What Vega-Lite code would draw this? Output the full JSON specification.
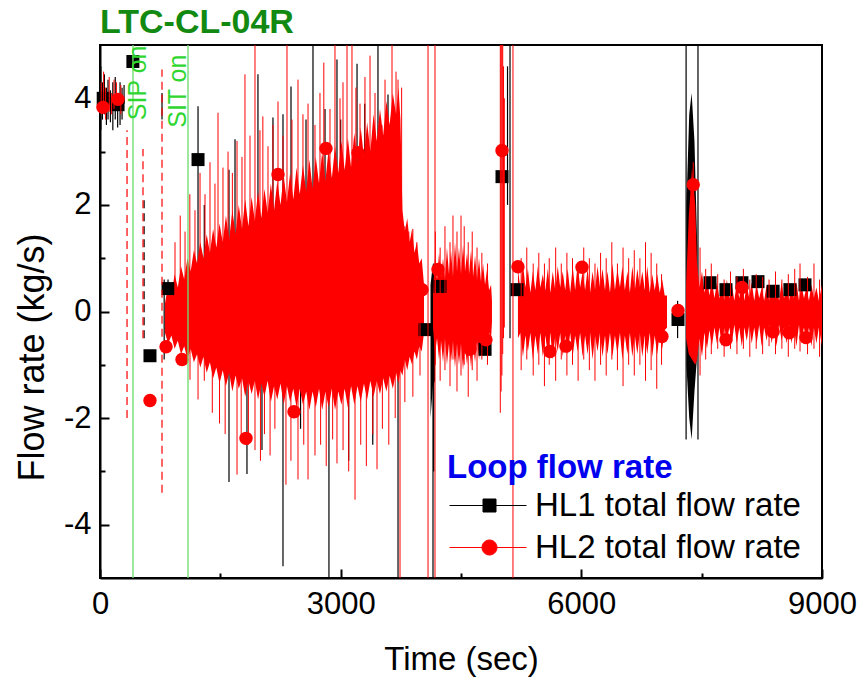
{
"$schema":"https://vega.github.io/schema/vega-lite/v6.json",
"width":722,"height":533,
"autosize":{"type":"none"},
"padding":{"left":100,"top":45,"right":42,"bottom":105},
"background":"white",
"title":{"text":"LTC-CL-04R","anchor":"start","frame":"group","fontSize":34,"fontWeight":"bold","color":"#128a12","font":"Liberation Sans","offset":4},
"config":{"font":"Liberation Sans","view":{"stroke":"black","strokeWidth":2},"axis":{"grid":false}},
"datasets":{
"spK":[{"t":10,"l":3.4,"h":4.6},{"t":30,"l":3.6,"h":4.3},{"t":55,"l":3.7,"h":4.45},{"t":80,"l":3.5,"h":4.2},{"t":100,"l":3.6,"h":4.35},{"t":130,"l":3.55,"h":4.15},{"t":160,"l":3.4,"h":4.3},{"t":190,"l":3.6,"h":4.4},{"t":220,"l":3.45,"h":4.1},{"t":250,"l":3.5,"h":4.3},{"t":275,"l":3.6,"h":4.2},{"t":300,"l":3.9,"h":4.25},{"t":773,"l":3.6,"h":4.1},{"t":800,"l":-0.9,"h":0.6},{"t":848,"l":-0.7,"h":0.6},{"t":1222,"l":0.2,"h":3.85},{"t":1300,"l":0,"h":2.0},{"t":1608,"l":-3.2,"h":2.66},{"t":1683,"l":-1,"h":3.23},{"t":1832,"l":-3.05,"h":0},{"t":1969,"l":0,"h":4.45},{"t":2019,"l":-2.6,"h":0},{"t":2156,"l":0,"h":3.64},{"t":2281,"l":-4.78,"h":3.7},{"t":2381,"l":0,"h":4.22},{"t":2500,"l":-2.2,"h":0},{"t":2568,"l":0,"h":3.6},{"t":2655,"l":0,"h":5.5},{"t":2805,"l":0,"h":3.8},{"t":2854,"l":-5.5,"h":0},{"t":2954,"l":0,"h":4.73},{"t":3000,"l":0,"h":3.6},{"t":3100,"l":-2.8,"h":0},{"t":3204,"l":0,"h":4.65},{"t":3300,"l":0,"h":3.9},{"t":3400,"l":-2.5,"h":0},{"t":3465,"l":0,"h":5.5},{"t":3590,"l":0,"h":4.07},{"t":3715,"l":-5.5,"h":0},{"t":4151,"l":-5.5,"h":0},{"t":4160,"l":-3.0,"h":0.9},{"t":5080,"l":2.0,"h":4.6},{"t":5111,"l":-0.5,"h":5.5},{"t":7200,"l":-0.5,"h":0.2},{"t":7306,"l":-2.4,"h":5.5},{"t":7454,"l":-2.4,"h":5.5}],
"arK":[{"g":"a","t":4120,"l":-2.0,"h":0.5},{"g":"a","t":4150,"l":-1.4,"h":0.9},{"g":"a","t":4176,"l":-1.3,"h":0.3},{"g":"b","t":7310,"l":-1.0,"h":2.0},{"g":"b","t":7345,"l":-2.0,"h":3.7},{"g":"b","t":7375,"l":-2.4,"h":4.1},{"g":"b","t":7410,"l":-1.5,"h":3.2},{"g":"b","t":7445,"l":-0.8,"h":1.2}],
"daK":[{"t":550,"l":-0.5,"h":2.1}],
"arR":[{"g":"m","t":810,"l":-0.4,"h":0.15},{"g":"m","t":850,"l":-0.6,"h":0.5},{"g":"m","t":890,"l":-0.45,"h":0.3},{"g":"m","t":930,"l":-0.7,"h":0.7},{"g":"m","t":970,"l":-0.55,"h":0.45},{"g":"m","t":1010,"l":-0.8,"h":0.85},{"g":"m","t":1050,"l":-0.65,"h":0.6},{"g":"m","t":1090,"l":-0.9,"h":1.0},{"g":"m","t":1130,"l":-0.7,"h":0.75},{"g":"m","t":1170,"l":-0.95,"h":1.15},{"g":"m","t":1210,"l":-0.8,"h":0.9},{"g":"m","t":1250,"l":-1.05,"h":1.3},{"g":"m","t":1290,"l":-0.85,"h":1.0},{"g":"m","t":1330,"l":-1.15,"h":1.45},{"g":"m","t":1370,"l":-0.95,"h":1.1},{"g":"m","t":1410,"l":-1.25,"h":1.55},{"g":"m","t":1450,"l":-1.05,"h":1.2},{"g":"m","t":1490,"l":-1.35,"h":1.65},{"g":"m","t":1530,"l":-1.1,"h":1.3},{"g":"m","t":1570,"l":-1.4,"h":1.8},{"g":"m","t":1610,"l":-1.15,"h":1.35},{"g":"m","t":1650,"l":-1.5,"h":1.9},{"g":"m","t":1690,"l":-1.2,"h":1.45},{"g":"m","t":1730,"l":-1.45,"h":2.0},{"g":"m","t":1770,"l":-1.25,"h":1.55},{"g":"m","t":1810,"l":-1.6,"h":2.1},{"g":"m","t":1850,"l":-1.3,"h":1.6},{"g":"m","t":1890,"l":-1.55,"h":2.15},{"g":"m","t":1930,"l":-1.3,"h":1.7},{"g":"m","t":1970,"l":-1.65,"h":2.25},{"g":"m","t":2010,"l":-1.35,"h":1.75},{"g":"m","t":2050,"l":-1.6,"h":2.3},{"g":"m","t":2090,"l":-1.3,"h":1.85},{"g":"m","t":2130,"l":-1.7,"h":2.4},{"g":"m","t":2170,"l":-1.4,"h":1.9},{"g":"m","t":2210,"l":-1.65,"h":2.45},{"g":"m","t":2250,"l":-1.35,"h":2.0},{"g":"m","t":2290,"l":-1.75,"h":2.55},{"g":"m","t":2330,"l":-1.4,"h":2.05},{"g":"m","t":2370,"l":-1.7,"h":2.6},{"g":"m","t":2410,"l":-1.45,"h":2.1},{"g":"m","t":2450,"l":-1.8,"h":2.7},{"g":"m","t":2490,"l":-1.45,"h":2.2},{"g":"m","t":2530,"l":-1.75,"h":2.75},{"g":"m","t":2570,"l":-1.5,"h":2.25},{"g":"m","t":2610,"l":-1.85,"h":2.85},{"g":"m","t":2650,"l":-1.5,"h":2.3},{"g":"m","t":2690,"l":-1.8,"h":2.9},{"g":"m","t":2730,"l":-1.45,"h":2.4},{"g":"m","t":2770,"l":-1.85,"h":3.0},{"g":"m","t":2810,"l":-1.5,"h":2.45},{"g":"m","t":2850,"l":-1.8,"h":3.05},{"g":"m","t":2890,"l":-1.45,"h":2.5},{"g":"m","t":2930,"l":-1.85,"h":3.1},{"g":"m","t":2970,"l":-1.5,"h":2.6},{"g":"m","t":3010,"l":-1.75,"h":3.2},{"g":"m","t":3050,"l":-1.45,"h":2.65},{"g":"m","t":3090,"l":-1.8,"h":3.25},{"g":"m","t":3130,"l":-1.4,"h":2.7},{"g":"m","t":3170,"l":-1.75,"h":3.35},{"g":"m","t":3210,"l":-1.4,"h":2.8},{"g":"m","t":3250,"l":-1.7,"h":3.45},{"g":"m","t":3290,"l":-1.35,"h":2.9},{"g":"m","t":3330,"l":-1.65,"h":3.55},{"g":"m","t":3370,"l":-1.3,"h":3.0},{"g":"m","t":3410,"l":-1.6,"h":3.7},{"g":"m","t":3450,"l":-1.3,"h":3.2},{"g":"m","t":3490,"l":-1.55,"h":3.8},{"g":"m","t":3530,"l":-1.25,"h":3.3},{"g":"m","t":3570,"l":-1.5,"h":3.95},{"g":"m","t":3610,"l":-1.2,"h":3.5},{"g":"m","t":3650,"l":-1.45,"h":4.1},{"g":"m","t":3690,"l":-1.15,"h":3.7},{"g":"m","t":3720,"l":-1.35,"h":4.2},{"g":"m","t":3745,"l":-1.1,"h":3.6},{"g":"m","t":3770,"l":-1.2,"h":1.9},{"g":"m","t":3800,"l":-0.9,"h":1.5},{"g":"m","t":3830,"l":-1.1,"h":1.75},{"g":"m","t":3860,"l":-0.85,"h":1.3},{"g":"m","t":3890,"l":-1.0,"h":1.55},{"g":"m","t":3920,"l":-0.75,"h":1.1},{"g":"m","t":3950,"l":-0.9,"h":1.3},{"g":"m","t":3980,"l":-0.65,"h":0.9},{"g":"m","t":4010,"l":-0.75,"h":1.0},{"g":"m","t":4039,"l":-0.4,"h":0.5},
{"g":"c","t":4151,"l":-0.3,"h":0.4},{"g":"c","t":4176,"l":-0.8,"h":1.0},{"g":"c","t":4201,"l":-0.5,"h":0.6},{"g":"c","t":4226,"l":-0.9,"h":1.1},{"g":"c","t":4251,"l":-0.55,"h":0.65},{"g":"c","t":4276,"l":-0.95,"h":1.0},{"g":"c","t":4300,"l":-0.5,"h":0.6},{"g":"c","t":4325,"l":-1.0,"h":1.2},{"g":"c","t":4350,"l":-0.6,"h":0.7},{"g":"c","t":4375,"l":-0.95,"h":1.15},{"g":"c","t":4400,"l":-0.55,"h":0.65},{"g":"c","t":4425,"l":-1.05,"h":1.3},{"g":"c","t":4450,"l":-0.6,"h":0.75},{"g":"c","t":4475,"l":-1.0,"h":1.2},{"g":"c","t":4500,"l":-0.6,"h":0.7},{"g":"c","t":4525,"l":-1.1,"h":1.25},{"g":"c","t":4550,"l":-0.65,"h":0.75},{"g":"c","t":4575,"l":-1.0,"h":1.1},{"g":"c","t":4600,"l":-0.6,"h":0.7},{"g":"c","t":4625,"l":-1.05,"h":1.15},{"g":"c","t":4650,"l":-0.6,"h":0.65},{"g":"c","t":4675,"l":-0.95,"h":1.05},{"g":"c","t":4700,"l":-0.55,"h":0.6},{"g":"c","t":4725,"l":-0.9,"h":1.0},{"g":"c","t":4750,"l":-0.5,"h":0.55},{"g":"c","t":4775,"l":-0.85,"h":0.9},{"g":"c","t":4800,"l":-0.5,"h":0.5},{"g":"c","t":4825,"l":-0.8,"h":0.8},{"g":"c","t":4850,"l":-0.4,"h":0.4},{"g":"c","t":4875,"l":-0.5,"h":0.5},{"g":"c","t":4886,"l":-0.2,"h":0.2},
{"g":"e","t":5210,"l":-0.5,"h":0.8},{"g":"e","t":5241,"l":-0.4,"h":0.4},{"g":"e","t":5272,"l":-0.85,"h":0.9},{"g":"e","t":5303,"l":-0.45,"h":0.45},{"g":"e","t":5334,"l":-0.75,"h":0.8},{"g":"e","t":5365,"l":-0.4,"h":0.35},{"g":"e","t":5396,"l":-0.9,"h":0.75},{"g":"e","t":5427,"l":-0.45,"h":0.4},{"g":"e","t":5458,"l":-0.8,"h":0.85},{"g":"e","t":5489,"l":-0.4,"h":0.45},{"g":"e","t":5520,"l":-0.85,"h":0.7},{"g":"e","t":5551,"l":-0.45,"h":0.4},{"g":"e","t":5582,"l":-0.8,"h":0.8},{"g":"e","t":5613,"l":-0.4,"h":0.35},{"g":"e","t":5644,"l":-0.9,"h":0.75},{"g":"e","t":5675,"l":-0.45,"h":0.4},{"g":"e","t":5706,"l":-0.75,"h":0.85},{"g":"e","t":5737,"l":-0.4,"h":0.45},{"g":"e","t":5768,"l":-0.85,"h":0.75},{"g":"e","t":5799,"l":-0.45,"h":0.4},{"g":"e","t":5830,"l":-0.8,"h":0.8},{"g":"e","t":5861,"l":-0.4,"h":0.35},{"g":"e","t":5892,"l":-0.85,"h":0.85},{"g":"e","t":5923,"l":-0.45,"h":0.4},{"g":"e","t":5954,"l":-0.75,"h":0.9},{"g":"e","t":5985,"l":-0.4,"h":0.45},{"g":"e","t":6016,"l":-0.85,"h":0.75},{"g":"e","t":6047,"l":-0.45,"h":0.4},{"g":"e","t":6078,"l":-0.8,"h":0.8},{"g":"e","t":6109,"l":-0.4,"h":0.35},{"g":"e","t":6140,"l":-0.9,"h":0.75},{"g":"e","t":6171,"l":-0.45,"h":0.4},{"g":"e","t":6202,"l":-0.75,"h":0.85},{"g":"e","t":6233,"l":-0.4,"h":0.45},{"g":"e","t":6264,"l":-0.85,"h":0.8},{"g":"e","t":6295,"l":-0.45,"h":0.4},{"g":"e","t":6326,"l":-0.8,"h":0.75},{"g":"e","t":6357,"l":-0.4,"h":0.35},{"g":"e","t":6388,"l":-0.85,"h":0.9},{"g":"e","t":6419,"l":-0.45,"h":0.4},{"g":"e","t":6450,"l":-0.8,"h":0.8},{"g":"e","t":6481,"l":-0.4,"h":0.45},{"g":"e","t":6512,"l":-0.9,"h":0.85},{"g":"e","t":6543,"l":-0.45,"h":0.4},{"g":"e","t":6574,"l":-0.8,"h":0.75},{"g":"e","t":6605,"l":-0.4,"h":0.35},{"g":"e","t":6636,"l":-0.85,"h":0.85},{"g":"e","t":6667,"l":-0.45,"h":0.4},{"g":"e","t":6698,"l":-0.8,"h":0.8},{"g":"e","t":6729,"l":-0.4,"h":0.45},{"g":"e","t":6760,"l":-0.85,"h":0.75},{"g":"e","t":6791,"l":-0.45,"h":0.4},{"g":"e","t":6822,"l":-0.8,"h":0.85},{"g":"e","t":6853,"l":-0.4,"h":0.35},{"g":"e","t":6884,"l":-0.85,"h":0.7},{"g":"e","t":6915,"l":-0.45,"h":0.4},{"g":"e","t":6946,"l":-0.8,"h":0.7},{"g":"e","t":6977,"l":-0.4,"h":0.35},{"g":"e","t":7008,"l":-0.7,"h":0.6},{"g":"e","t":7039,"l":-0.35,"h":0.3},{"g":"e","t":7068,"l":-0.3,"h":0.3},
{"g":"f","t":7306,"l":-0.5,"h":0.5},{"g":"f","t":7340,"l":-0.8,"h":1.8},{"g":"f","t":7380,"l":-0.9,"h":2.7},{"g":"f","t":7420,"l":-1.0,"h":2.0},{"g":"f","t":7442,"l":-0.9,"h":0.9},{"g":"f","t":7473,"l":-0.5,"h":0.45},{"g":"f","t":7504,"l":-0.85,"h":0.75},{"g":"f","t":7535,"l":-0.4,"h":0.35},{"g":"f","t":7566,"l":-0.7,"h":0.65},{"g":"f","t":7597,"l":-0.35,"h":0.3},{"g":"f","t":7628,"l":-0.65,"h":0.6},{"g":"f","t":7659,"l":-0.3,"h":0.25},{"g":"f","t":7690,"l":-0.6,"h":0.55},{"g":"f","t":7721,"l":-0.3,"h":0.25},{"g":"f","t":7752,"l":-0.65,"h":0.5},{"g":"f","t":7783,"l":-0.3,"h":0.2},{"g":"f","t":7814,"l":-0.55,"h":0.6},{"g":"f","t":7845,"l":-0.3,"h":0.25},{"g":"f","t":7876,"l":-0.6,"h":0.5},{"g":"f","t":7907,"l":-0.25,"h":0.2},{"g":"f","t":7938,"l":-0.6,"h":0.55},{"g":"f","t":7969,"l":-0.3,"h":0.25},{"g":"f","t":8000,"l":-0.65,"h":0.6},{"g":"f","t":8031,"l":-0.3,"h":0.2},{"g":"f","t":8062,"l":-0.55,"h":0.5},{"g":"f","t":8093,"l":-0.25,"h":0.25},{"g":"f","t":8124,"l":-0.6,"h":0.55},{"g":"f","t":8155,"l":-0.3,"h":0.2},{"g":"f","t":8186,"l":-0.6,"h":0.5},{"g":"f","t":8217,"l":-0.25,"h":0.25},{"g":"f","t":8248,"l":-0.65,"h":0.45},{"g":"f","t":8279,"l":-0.3,"h":0.2},{"g":"f","t":8310,"l":-0.55,"h":0.5},{"g":"f","t":8341,"l":-0.25,"h":0.2},{"g":"f","t":8372,"l":-0.6,"h":0.45},{"g":"f","t":8403,"l":-0.3,"h":0.25},{"g":"f","t":8434,"l":-0.65,"h":0.5},{"g":"f","t":8465,"l":-0.25,"h":0.2},{"g":"f","t":8496,"l":-0.55,"h":0.55},{"g":"f","t":8527,"l":-0.3,"h":0.25},{"g":"f","t":8558,"l":-0.6,"h":0.45},{"g":"f","t":8589,"l":-0.25,"h":0.2},{"g":"f","t":8620,"l":-0.6,"h":0.5},{"g":"f","t":8651,"l":-0.3,"h":0.25},{"g":"f","t":8682,"l":-0.65,"h":0.55},{"g":"f","t":8713,"l":-0.25,"h":0.2},{"g":"f","t":8744,"l":-0.55,"h":0.5},{"g":"f","t":8775,"l":-0.3,"h":0.25},{"g":"f","t":8806,"l":-0.6,"h":0.45},{"g":"f","t":8837,"l":-0.3,"h":0.2},{"g":"f","t":8868,"l":-0.65,"h":0.5},{"g":"f","t":8899,"l":-0.3,"h":0.25},{"g":"f","t":8930,"l":-0.6,"h":0.45},{"g":"f","t":8961,"l":-0.3,"h":0.2},{"g":"f","t":9000,"l":-0.65,"h":0.5}],
"spR":[{"t":15,"l":3.7,"h":4.3},{"t":45,"l":3.8,"h":4.5},{"t":70,"l":3.6,"h":4.2},{"t":115,"l":3.75,"h":4.4},{"t":145,"l":3.7,"h":4.1},{"t":175,"l":3.8,"h":4.35},{"t":205,"l":3.9,"h":4.3},{"t":260,"l":3.7,"h":4.25},
{"t":935,"l":0,"h":1.3},{"t":1000,"l":0,"h":1.8},{"t":1060,"l":0,"h":1.5},{"t":1120,"l":0,"h":2.2},{"t":1184,"l":0,"h":1.9},{"t":1247,"l":0,"h":2.6},{"t":1309,"l":0,"h":2.2},{"t":1371,"l":0,"h":2.8},{"t":1433,"l":0,"h":2.4},{"t":1471,"l":0,"h":3.73},{"t":1533,"l":0,"h":2.7},{"t":1596,"l":0,"h":3.0},{"t":1650,"l":0,"h":2.6},{"t":1708,"l":0,"h":3.2},{"t":1770,"l":0,"h":2.9},{"t":1807,"l":0,"h":4.45},{"t":1870,"l":0,"h":3.3},{"t":1932,"l":0,"h":5.5},{"t":1994,"l":0,"h":3.4},{"t":2030,"l":0,"h":3.66},{"t":2094,"l":0,"h":3.1},{"t":2156,"l":0,"h":3.5},{"t":2219,"l":0,"h":3.94},{"t":2281,"l":0,"h":3.3},{"t":2331,"l":0,"h":5.5},{"t":2393,"l":0,"h":3.6},{"t":2468,"l":0,"h":4.35},{"t":2530,"l":0,"h":3.7},{"t":2593,"l":0,"h":3.9},{"t":2680,"l":0,"h":3.5},{"t":2742,"l":0,"h":4.1},{"t":2790,"l":0,"h":4.67},{"t":2867,"l":0,"h":3.8},{"t":2929,"l":0,"h":5.5},{"t":2992,"l":0,"h":4.0},{"t":3029,"l":0,"h":4.3},{"t":3079,"l":0,"h":5.5},{"t":3141,"l":0,"h":5.5},{"t":3190,"l":0,"h":4.2},{"t":3241,"l":0,"h":3.9},{"t":3303,"l":0,"h":4.4},{"t":3366,"l":0,"h":4.8},{"t":3428,"l":0,"h":4.1},{"t":3515,"l":0,"h":3.5},{"t":3553,"l":0,"h":4.35},{"t":3640,"l":0,"h":5.5},{"t":3690,"l":0,"h":4.5},{"t":3715,"l":0,"h":4.35},{"t":3760,"l":0,"h":4.2},{"t":3800,"l":0,"h":1.6},{"t":3850,"l":0,"h":1.5},{"t":3900,"l":0,"h":1.55},{"t":3950,"l":0,"h":1.3},
{"t":1122,"l":-1.28,"h":0},{"t":1222,"l":-1.65,"h":0},{"t":1300,"l":-1.3,"h":0},{"t":1400,"l":-1.9,"h":0},{"t":1490,"l":-2.1,"h":0},{"t":1560,"l":-2.3,"h":0},{"t":1708,"l":-3.06,"h":0},{"t":1760,"l":-2.4,"h":0},{"t":1850,"l":-2.5,"h":0},{"t":1932,"l":-2.6,"h":0},{"t":2000,"l":-2.8,"h":0},{"t":2050,"l":-2.3,"h":0},{"t":2120,"l":-2.7,"h":0},{"t":2180,"l":-2.2,"h":0},{"t":2318,"l":-3.25,"h":0},{"t":2380,"l":-2.8,"h":0},{"t":2468,"l":-3.15,"h":0},{"t":2540,"l":-2.5,"h":0},{"t":2593,"l":-3.15,"h":0},{"t":2680,"l":-2.7,"h":0},{"t":2750,"l":-2.5,"h":0},{"t":2820,"l":-2.9,"h":0},{"t":2900,"l":-2.4,"h":0},{"t":2954,"l":-2.85,"h":0},{"t":3030,"l":-2.6,"h":0},{"t":3100,"l":-3.0,"h":0},{"t":3179,"l":-3.53,"h":0},{"t":3250,"l":-2.5,"h":0},{"t":3320,"l":-2.9,"h":0},{"t":3400,"l":-2.3,"h":0},{"t":3453,"l":-2.96,"h":0},{"t":3520,"l":-2.2,"h":0},{"t":3600,"l":-2.5,"h":0},{"t":3680,"l":-2.0,"h":0},{"t":3740,"l":-5.5,"h":0},{"t":3800,"l":-1.7,"h":0},{"t":3900,"l":-1.6,"h":0},{"t":3989,"l":-1.2,"h":0},
{"t":4089,"l":-5.5,"h":5.5},{"t":4176,"l":-5.5,"h":5.5},{"t":5148,"l":-5.5,"h":5.5},
{"t":4990,"l":-1.9,"h":5.5},{"t":5000,"l":-1.5,"h":5.5},{"t":5010,"l":-1.2,"h":5.5},{"t":5020,"l":-0.8,"h":5.5},{"t":5030,"l":-0.5,"h":4.6},{"t":5040,"l":-0.3,"h":4.0},
{"t":4180,"l":-1.0,"h":1.5},{"t":4240,"l":-1.3,"h":1.2},{"t":4300,"l":-1.1,"h":1.6},{"t":4363,"l":-1.4,"h":1.3},{"t":4400,"l":-0.9,"h":1.8},{"t":4450,"l":-1.5,"h":1.5},{"t":4500,"l":-1.2,"h":1.8},{"t":4540,"l":-1.0,"h":1.6},{"t":4590,"l":-1.6,"h":1.3},{"t":4640,"l":-1.1,"h":1.5},{"t":4700,"l":-1.3,"h":1.2},{"t":4760,"l":-0.9,"h":1.1},{"t":4830,"l":-1.0,"h":0.9},
{"t":5250,"l":-1.1,"h":1.0},{"t":5320,"l":-0.9,"h":1.2},{"t":5400,"l":-1.2,"h":0.9},{"t":5470,"l":-1.0,"h":1.1},{"t":5540,"l":-1.4,"h":0.9},{"t":5600,"l":-1.0,"h":1.0},{"t":5680,"l":-1.3,"h":1.2},{"t":5750,"l":-0.9,"h":0.9},{"t":5820,"l":-1.2,"h":1.1},{"t":5890,"l":-1.0,"h":1.0},{"t":5960,"l":-1.3,"h":0.9},{"t":6030,"l":-0.9,"h":1.2},{"t":6100,"l":-1.1,"h":1.0},{"t":6170,"l":-1.3,"h":0.9},{"t":6240,"l":-1.0,"h":1.1},{"t":6310,"l":-1.2,"h":1.0},{"t":6380,"l":-0.9,"h":1.3},{"t":6450,"l":-1.1,"h":0.9},{"t":6520,"l":-1.4,"h":1.2},{"t":6590,"l":-1.0,"h":1.0},{"t":6660,"l":-1.2,"h":1.15},{"t":6730,"l":-1.0,"h":1.0},{"t":6800,"l":-1.3,"h":1.3},{"t":6870,"l":-1.1,"h":1.1},{"t":6940,"l":-1.45,"h":0.9},{"t":7000,"l":-1.0,"h":0.7},
{"t":7395,"l":-0.5,"h":2.8},
{"t":7480,"l":-1.2,"h":1.2},{"t":7550,"l":-0.9,"h":0.8},{"t":7620,"l":-0.8,"h":0.9},{"t":7700,"l":-0.7,"h":0.7},{"t":7780,"l":-0.85,"h":0.6},{"t":7860,"l":-0.7,"h":0.75},{"t":7940,"l":-0.8,"h":0.65},{"t":8020,"l":-0.7,"h":0.8},{"t":8100,"l":-0.85,"h":0.6},{"t":8180,"l":-0.7,"h":0.7},{"t":8260,"l":-0.8,"h":0.65},{"t":8340,"l":-0.65,"h":0.6},{"t":8420,"l":-0.8,"h":0.75},{"t":8500,"l":-0.7,"h":0.6},{"t":8580,"l":-0.85,"h":0.7},{"t":8660,"l":-0.7,"h":0.8},{"t":8726,"l":-0.75,"h":0.9},{"t":8820,"l":-0.8,"h":0.65},{"t":8900,"l":-0.7,"h":0.9},{"t":8970,"l":-0.85,"h":0.6}],
"daR":[{"t":337,"l":-2.0,"h":3.4},{"t":536,"l":-0.5,"h":3.05},{"t":773,"l":-3.4,"h":4.54}],
"mkK":[{"t":40,"v":4.0},{"t":225,"v":3.88},{"t":410,"v":4.69},{"t":623,"v":-0.83},{"t":848,"v":0.43},{"t":1222,"v":2.85},{"t":4051,"v":-0.34},{"t":4238,"v":0.47},{"t":4800,"v":-0.71},{"t":5011,"v":2.53},{"t":5198,"v":0.41},{"t":7205,"v":-0.15},{"t":7604,"v":0.54},{"t":7803,"v":0.41},{"t":8002,"v":0.54},{"t":8202,"v":0.56},{"t":8391,"v":0.38},{"t":8600,"v":0.41},{"t":8788,"v":0.5}],
"mkR":[{"t":37,"v":3.83},{"t":224,"v":3.98},{"t":623,"v":-1.67},{"t":823,"v":-0.66},{"t":1022,"v":-0.9},{"t":1820,"v":-2.38},{"t":2219,"v":2.57},{"t":2418,"v":-1.88},{"t":2817,"v":3.06},{"t":3216,"v":2.98},{"t":4014,"v":0.41},{"t":4213,"v":0.79},{"t":4612,"v":-0.71},{"t":4811,"v":-0.53},{"t":5011,"v":3.02},{"t":5210,"v":0.84},{"t":5609,"v":-0.75},{"t":5809,"v":-0.65},{"t":6008,"v":0.83},{"t":7005,"v":-0.47},{"t":7205,"v":0.02},{"t":7395,"v":2.38},{"t":7803,"v":-0.53},{"t":8002,"v":0.45},{"t":8391,"v":-0.38},{"t":8590,"v":-0.4},{"t":8800,"v":-0.49}],
"ev":[{"t":411,"p":324,"v":4.99,"label":"SIP on"},{"t":1097,"p":823,"v":4.82,"label":"SIT on"}]
},
"resolve":{"axis":{"x":"independent","y":"independent"}},
"layer":[
{"data":{"name":"spK"},"mark":{"type":"rule","strokeWidth":1.2,"clip":true},
 "encoding":{
  "x":{"field":"t","type":"quantitative","scale":{"domain":[0,9000],"nice":false,"zero":false},
   "axis":{"orient":"bottom","values":[0,3000,6000,9000],"labelExpr":"'' + datum.value","title":"Time (sec)","tickSize":-9,"tickWidth":2,"tickColor":"black","domainColor":"black","domainWidth":2,"labelFontSize":31,"labelColor":"black","labelPadding":20,"labelFlush":false,"labelOverlap":false,"titleFontSize":33,"titleFontWeight":"normal","titleColor":"black","titlePadding":24,"grid":false}},
  "y":{"field":"l","type":"quantitative","scale":{"domain":[-5,5],"nice":false,"zero":false},
   "axis":{"orient":"left","values":[-4,-2,0,2,4],"title":"Flow rate (kg/s)","labelExpr":"'' + datum.value","tickSize":-9,"tickWidth":2,"tickColor":"black","domainColor":"black","domainWidth":2,"labelFontSize":31,"labelColor":"black","labelPadding":18,"labelOverlap":false,"titleFontSize":36,"titleFontWeight":"normal","titleColor":"black","titlePadding":12,"titleY":312,"grid":false}},
  "y2":{"field":"h"},
  "color":{"datum":"HL1","type":"nominal","scale":{"domain":["HL1","HL2"],"range":["#000000","#ff0000"]},
   "legend":{"orient":"none","legendX":347,"legendY":407,"title":"Loop flow rate","titleFontSize":33,"titleFontWeight":"bold","titleColor":"#0000ee","titlePadding":4,"titleLimit":500,"labelLimit":500,"labelFontSize":33,"labelColor":"black","labelOffset":55,"symbolSize":400,"symbolStrokeWidth":1,"rowPadding":8,"padding":0,"labelExpr":"datum.label + ' total flow rate'",
    "encode":{"symbols":{"update":{"shape":{"signal":"datum.value === 'HL1' ? 'M-1.4,0H6.3M1.95,-0.65H3.25V0.65H1.95Z' : 'M-1.4,0H6.3M1.85,0A0.75,0.75 0 1,0 3.35,0A0.75,0.75 0 1,0 1.85,0Z'"},"fill":{"scale":"color","field":"value"},"stroke":{"scale":"color","field":"value"},"strokeWidth":{"value":1},"opacity":{"value":1}}}}}}
 }},
{"data":{"name":"arK"},"mark":{"type":"area","clip":true},
 "encoding":{"x":{"field":"t","type":"quantitative","axis":null},"y":{"field":"l","type":"quantitative","axis":null},"y2":{"field":"h"},"detail":{"field":"g"},"color":{"datum":"HL1","type":"nominal"}}},
{"data":{"name":"daK"},"mark":{"type":"rule","strokeWidth":1.2,"strokeDash":[8,5],"clip":true},
 "encoding":{"x":{"field":"t","type":"quantitative","axis":null},"y":{"field":"l","type":"quantitative","axis":null},"y2":{"field":"h"},"color":{"datum":"HL1","type":"nominal"}}},
{"data":{"name":"arR"},"mark":{"type":"area","clip":true},
 "encoding":{"x":{"field":"t","type":"quantitative","axis":null},"y":{"field":"l","type":"quantitative","axis":null},"y2":{"field":"h"},"detail":{"field":"g"},"color":{"datum":"HL2","type":"nominal"}}},
{"data":{"name":"mkK"},"mark":{"type":"point","shape":"square","filled":true,"size":169,"opacity":1},
 "encoding":{"x":{"field":"t","type":"quantitative","axis":null},"y":{"field":"v","type":"quantitative","axis":null},"color":{"datum":"HL1","type":"nominal"}}},
{"data":{"name":"spR"},"mark":{"type":"rule","strokeWidth":1,"clip":true},
 "encoding":{
  "x":{"field":"t","type":"quantitative","axis":{"orient":"bottom","values":[1500,4500,7500],"labels":false,"domain":false,"title":null,"tickSize":-5,"tickWidth":2,"tickColor":"black","grid":false}},
  "y":{"field":"l","type":"quantitative","axis":{"orient":"left","values":[-3,-1,1,3],"labels":false,"domain":false,"title":null,"tickSize":-5,"tickWidth":2,"tickColor":"black","grid":false}},
  "y2":{"field":"h"},"color":{"datum":"HL2","type":"nominal"}}},
{"data":{"name":"daR"},"mark":{"type":"rule","strokeWidth":1.2,"strokeDash":[8,5],"clip":true},
 "encoding":{"x":{"field":"t","type":"quantitative","axis":null},"y":{"field":"l","type":"quantitative","axis":null},"y2":{"field":"h"},"color":{"datum":"HL2","type":"nominal"}}},
{"data":{"name":"mkR"},"mark":{"type":"point","shape":"circle","filled":true,"size":180,"opacity":1},
 "encoding":{"x":{"field":"t","type":"quantitative","axis":null},"y":{"field":"v","type":"quantitative","axis":null},"color":{"datum":"HL2","type":"nominal"}}},
{"data":{"name":"ev"},"mark":{"type":"rule","color":"#6fdc6f","strokeWidth":1.5,"opacity":0.9},
 "encoding":{"x":{"field":"t","type":"quantitative","axis":null}}},
{"data":{"name":"ev"},"mark":{"type":"text","angle":270,"align":"right","baseline":"top","fontSize":25,"color":"#2fd62f","font":"Liberation Sans"},
 "encoding":{"x":{"field":"p","type":"quantitative","axis":null},"y":{"field":"v","type":"quantitative","axis":null},"text":{"field":"label"}}}
]
}
